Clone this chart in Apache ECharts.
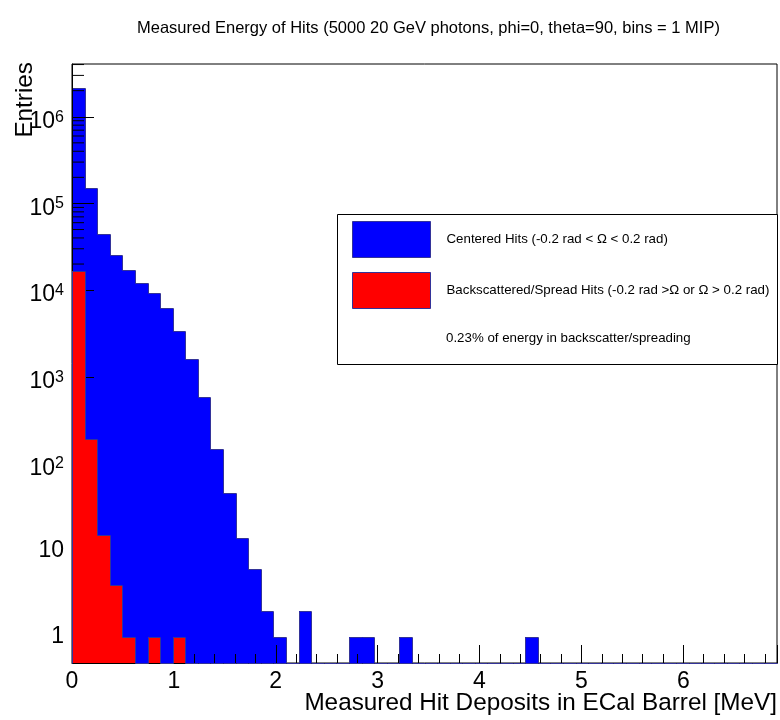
<!DOCTYPE html>
<html>
<head>
<meta charset="utf-8">
<script src="https://cdn.jsdelivr.net/npm/echarts@6/dist/echarts.min.js"></script>
<style>
html, body { margin: 0; padding: 0; background: #fff; }
#main { width: 780px; height: 720px; }
</style>
</head>
<body>
<div id="main"></div>
<script>
// bins of 1 MIP, 56 bins from 0
var binWidth = 0.12357;
var centeredHits = [2130000, 149000, 44300, 25400, 17000, 12200, 9300, 6150,
    3370, 1590, 588, 149, 46, 14, 6, 2,
    1, 0, 2, 0, 0, 0, 1, 1,
    0, 0, 1, 0, 0, 0, 0, 0,
    0, 0, 0, 0, 1, 0, 0, 0,
    0, 0, 0, 0, 0, 0, 0, 0,
    0, 0, 0, 0, 0, 0, 0, 0];
var spreadHits = [16700, 190, 15, 4, 1, 0, 1, 0,
    1, 0, 0, 0, 0, 0, 0, 0,
    0, 0, 0, 0, 0, 0, 0, 0,
    0, 0, 0, 0, 0, 0, 0, 0,
    0, 0, 0, 0, 0, 0, 0, 0,
    0, 0, 0, 0, 0, 0, 0, 0,
    0, 0, 0, 0, 0, 0, 0, 0];
var decades = [0.1, 1, 10, 100, 1e3, 1e4, 1e5, 1e6];
var minorMult = [2, 3, 4, 5, 6, 7, 8, 9];
var yMin = 0.5;
var yMax = 4.06e6;

var font = 'Liberation Sans';
var lineCol = '#333399';
var nameCentered = 'Centered Hits (-0.2 rad < \u03A9 < 0.2 rad)';
var nameSpread = 'Backscattered/Spread Hits (-0.2 rad >\u03A9 or \u03A9 > 0.2 rad)';

function toBins(counts) {
    var out = [];
    for (var i = 0; i < counts.length; i++) {
        out.push([i * binWidth, (i + 1) * binWidth, counts[i]]);
    }
    return out;
}

function snap(p) {
    return [Math.round(p[0]), Math.round(p[1])];
}

function histItem(counts, fill) {
    return function (params, api) {
        var i = params.dataIndex;
        var v = api.value(2);
        var prev = i > 0 ? counts[i - 1] : 0;
        var tl = snap(api.coord([api.value(0), v > 0 ? v : yMin]));
        var br = snap(api.coord([api.value(1), yMin]));
        var pl = snap(api.coord([api.value(0), prev > 0 ? prev : yMin]));
        var kids = [];
        if (v > 0) {
            kids.push({
                type: 'rect',
                shape: {x: tl[0], y: tl[1], width: br[0] - tl[0], height: br[1] - tl[1]},
                style: {fill: fill}
            });
        }
        kids.push({
            type: 'polyline',
            shape: {points: [[pl[0] + 0.5, pl[1] + 0.5], [tl[0] + 0.5, tl[1] + 0.5], [br[0] + 0.5, tl[1] + 0.5]]},
            style: {stroke: lineCol, lineWidth: 1, fill: null}
        });
        return {type: 'group', children: kids};
    };
}

var minorTicks = [];
decades.forEach(function (d) {
    minorMult.forEach(function (m) {
        var v = d * m;
        if (v > yMin && v < yMax) minorTicks.push([0, v]);
    });
});

var chart = echarts.init(document.getElementById('main'));
var option = {
    animation: false,
    backgroundColor: '#fff',
    title: {
        text: 'Measured Energy of Hits (5000 20 GeV photons, phi=0, theta=90, bins = 1 MIP)',
        left: 132, top: 15,
        textStyle: {fontFamily: font, fontSize: 16.5, fontWeight: 'normal', color: '#000'}
    },
    grid: {
        left: 72, right: 3, top: 64, bottom: 57,
        show: true, borderColor: '#000', borderWidth: 1
    },
    xAxis: {
        type: 'value', min: 0, max: 56 * binWidth, interval: 1, z: 2,
        axisLine: {show: true, lineStyle: {color: '#000'}},
        axisTick: {show: true, inside: true, length: 18, lineStyle: {color: '#000'}},
        minorTick: {show: true, splitNumber: 5, length: 9, lineStyle: {color: '#000'}},
        splitLine: {show: false},
        axisLabel: {fontFamily: font, fontSize: 23, color: '#000', margin: 7, showMaxLabel: false}
    },
    yAxis: {
        type: 'log', min: yMin, max: yMax, z: 2,
        axisLine: {show: true, lineStyle: {color: '#000'}},
        axisTick: {show: true, inside: true, length: 22, lineStyle: {color: '#000'}},
        splitLine: {show: false},
        axisLabel: {
            fontFamily: font, fontSize: 23, color: '#000', margin: 8,
            showMinLabel: false, showMaxLabel: false,
            formatter: function (v) {
                var l = Math.log10(v);
                var e = Math.round(l);
                if (Math.abs(l - e) > 1e-6) return '';
                if (e === 0) return '1';
                if (e === 1) return '10';
                return '{b|10}{s|' + e + '}';
            },
            rich: {
                b: {fontFamily: font, fontSize: 23, color: '#000', verticalAlign: 'bottom', padding: [10, 0, 0, 0]},
                s: {fontFamily: font, fontSize: 16, color: '#000', verticalAlign: 'bottom', padding: [0, 0, 8, 0]}
            }
        }
    },
    legend: {
        orient: 'vertical', left: 352, top: 221, z: 6,
        itemWidth: 78, itemHeight: 36, itemGap: 14, padding: 0,
        selectedMode: false,
        textStyle: {fontFamily: font, fontSize: 13.3, color: '#000', padding: [0, 0, 0, 11]},
        data: [
            {name: nameCentered, icon: 'rect', itemStyle: {color: '#0000ff', borderColor: lineCol, borderWidth: 1}},
            {name: nameSpread, icon: 'rect', itemStyle: {color: '#ff0000', borderColor: lineCol, borderWidth: 1}}
        ]
    },
    graphic: [
        {type: 'rect', z: 5, shape: {x: 337.5, y: 214.5, width: 440, height: 150},
            style: {fill: '#fff', stroke: '#000', lineWidth: 1}},
        {type: 'text', z: 6, x: 446, y: 338,
            style: {text: '0.23% of energy in backscatter/spreading', font: '13.3px "' + font + '"',
                fill: '#000', textVerticalAlign: 'middle'}},
        {type: 'text', x: 777, y: 703,
            style: {text: 'Measured Hit Deposits in ECal Barrel [MeV]', font: '24.3px "' + font + '"',
                fill: '#000', textAlign: 'right', textVerticalAlign: 'middle'}},
        {type: 'text', x: 25, y: 62, rotation: Math.PI / 2,
            style: {text: 'Entries', font: '24.3px "' + font + '"',
                fill: '#000', textAlign: 'right', textVerticalAlign: 'middle'}}
    ],
    series: [
        {
            name: nameCentered, type: 'custom', z: 1,
            itemStyle: {color: '#0000ff'},
            renderItem: histItem(centeredHits, '#0000ff'),
            encode: {x: [0, 1], y: 2},
            data: toBins(centeredHits)
        },
        {
            name: 'minor', type: 'custom', z: 2, silent: true,
            renderItem: function (params, api) {
                var p = api.coord([api.value(0), api.value(1)]);
                return {type: 'line', shape: {x1: p[0], y1: p[1], x2: p[0] + 12, y2: p[1]},
                    style: {stroke: '#000', lineWidth: 1}};
            },
            data: minorTicks
        },
        {
            name: nameSpread, type: 'custom', z: 3,
            itemStyle: {color: '#ff0000'},
            renderItem: histItem(spreadHits, '#ff0000'),
            encode: {x: [0, 1], y: 2},
            data: toBins(spreadHits)
        }
    ]
};
chart.setOption(option);
</script>
</body>
</html>
